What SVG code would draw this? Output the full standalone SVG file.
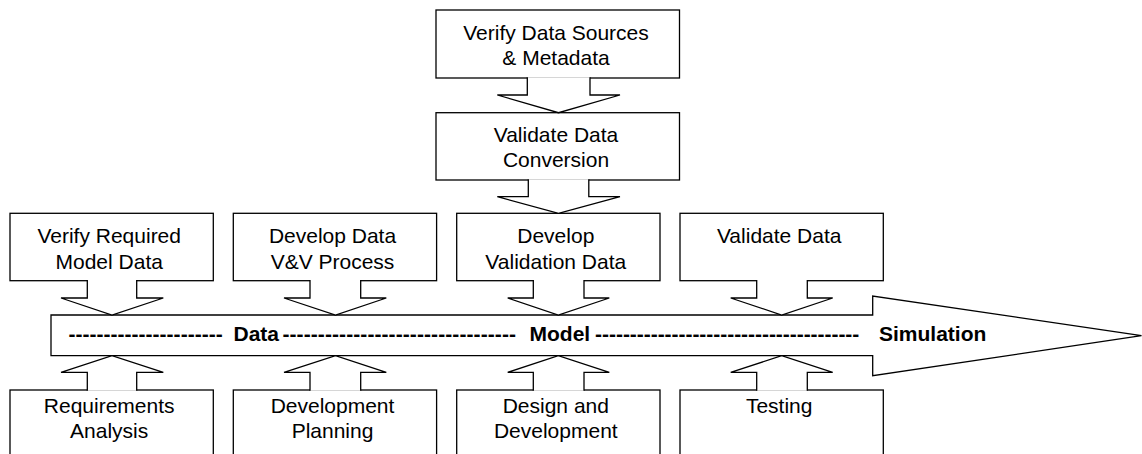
<svg xmlns="http://www.w3.org/2000/svg" width="1142" height="454" viewBox="0 0 1142 454">
<style>
.box{fill:#fff;stroke:#000;stroke-width:1.3}
.conn{fill:#fff;stroke:#000;stroke-width:1.3;stroke-linejoin:miter}
.t{font-family:"Liberation Sans",Arial,sans-serif;font-size:21px;fill:#000;text-anchor:middle}
.b{font-family:"Liberation Sans",Arial,sans-serif;font-size:21px;font-weight:bold;fill:#000}
</style>
<rect width="1142" height="454" fill="#fff"/>
<g id="timeline">
<path class="box" d="M51,315 H872.7 V296 L1141.5,335.7 L872.7,375.7 V355.7 H51 Z"/>
<text class="b" x="68.4" y="341" textLength="154.3" lengthAdjust="spacing">----------------------</text>
<text class="b" x="233.5" y="341">Data</text>
<text class="b" x="282.4" y="341" textLength="233.6" lengthAdjust="spacing">---------------------------------</text>
<text class="b" x="529.5" y="341">Model</text>
<text class="b" x="595.1" y="341" textLength="264.2" lengthAdjust="spacing">--------------------------------------</text>
<text class="b" x="879" y="341">Simulation</text>
</g>
<g id="verify-sources">
<rect class="box" x="436" y="10" width="243.5" height="68"/>
<text class="t" x="556" y="40">Verify Data Sources</text>
<text class="t" x="556" y="65">&amp; Metadata</text>
</g>
<g id="validate-conversion">
<rect class="box" x="436" y="112.7" width="243.5" height="67.3"/>
<text class="t" x="556" y="141.7">Validate Data</text>
<text class="t" x="556" y="166.7">Conversion</text>
</g>
<g id="verify-required">
<rect class="box" x="10" y="213.3" width="203.3" height="67.4"/>
<text class="t" x="109.2" y="243.3">Verify Required</text>
<text class="t" x="109.2" y="269">Model Data</text>
</g>
<g id="develop-vv">
<rect class="box" x="233.3" y="213.3" width="203.3" height="67.4"/>
<text class="t" x="332.5" y="243.3">Develop Data</text>
<text class="t" x="332.5" y="269">V&amp;V Process</text>
</g>
<g id="develop-validation">
<rect class="box" x="456.7" y="213.3" width="203.3" height="67.4"/>
<text class="t" x="555.8" y="243.3">Develop</text>
<text class="t" x="555.8" y="269">Validation Data</text>
</g>
<g id="validate-data">
<rect class="box" x="680" y="213.3" width="203.3" height="67.4"/>
<text class="t" x="779.2" y="243.3">Validate Data</text>
</g>
<g id="requirements">
<rect class="box" x="10" y="390" width="203.3" height="80"/>
<text class="t" x="109.2" y="412.5">Requirements</text>
<text class="t" x="109.2" y="437.5">Analysis</text>
</g>
<g id="planning">
<rect class="box" x="233.3" y="390" width="203.3" height="80"/>
<text class="t" x="332.5" y="412.5">Development</text>
<text class="t" x="332.5" y="437.5">Planning</text>
</g>
<g id="design">
<rect class="box" x="456.7" y="390" width="203.3" height="80"/>
<text class="t" x="555.8" y="412.5">Design and</text>
<text class="t" x="555.8" y="437.5">Development</text>
</g>
<g id="testing">
<rect class="box" x="680" y="390" width="203.3" height="80"/>
<text class="t" x="779.2" y="413">Testing</text>
</g>
<g id="connectors">
<path class="conn" d="M527.3,77.2 V95 H497.3 L558.5,112.7 L620,95 H590 V77.2"/>
<path class="conn" d="M528.3,179.2 V196.7 H497.3 L558.5,213.3 L620,196.7 H588.8 V179.2"/>
<path class="conn" d="M87.3,279.9 V298 H61 L112,315 L163.3,298 H136.7 V279.9"/>
<path class="conn" d="M310,279.9 V298 H284 L335.5,315 L386.3,298 H360.7 V279.9"/>
<path class="conn" d="M533.3,279.9 V298 H507.7 L558.3,315 L609.3,298 H584 V279.9"/>
<path class="conn" d="M756.7,279.9 V298 H730.7 L781.7,315 L832.7,298 H807.3 V279.9"/>
<path class="conn" d="M87.3,390.8 V372.3 H61 L112,355.7 L163.3,372.3 H136.7 V390.8"/>
<path class="conn" d="M310,390.8 V372.3 H284 L335.5,355.7 L386.3,372.3 H360.7 V390.8"/>
<path class="conn" d="M533.3,390.8 V372.3 H507.7 L558.3,355.7 L609.3,372.3 H584 V390.8"/>
<path class="conn" d="M756.7,390.8 V372.3 H730.7 L781.7,355.7 L832.7,372.3 H807.3 V390.8"/>
</g>
</svg>
